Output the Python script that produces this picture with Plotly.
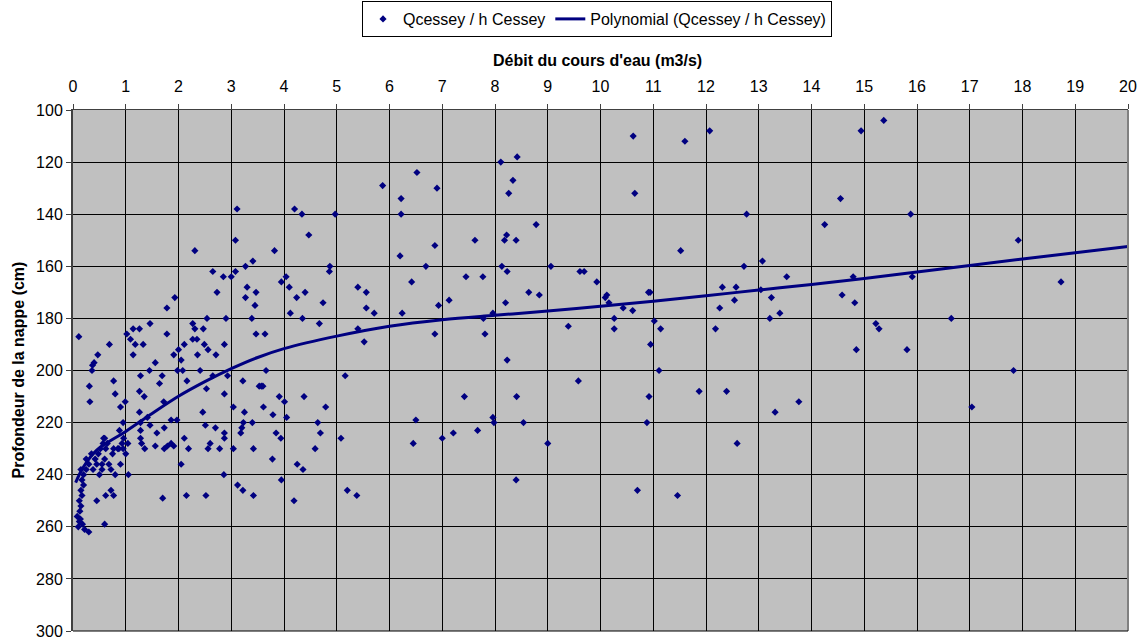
import plotly.graph_objects as go

# Débit (m3/s) et profondeur de la nappe (cm) relevés à Cessey
q_cessey = [
    3.11, 3.08, 2.31, 2.65, 2.85, 3.00, 3.08, 3.27, 3.41,
    2.73, 3.30, 3.27, 3.47, 3.45, 3.39, 3.47, 3.53,
    0.11, 0.69, 0.47, 0.37, 0.40, 0.36, 0.31, 0.32,
    1.02, 1.14, 1.26, 1.09, 1.18, 1.33, 1.14, 1.46, 1.78, 1.93, 1.78,
    1.28, 1.56, 1.45, 1.69, 1.64, 0.77, 0.80, 0.90, 0.99, 1.26, 1.35, 1.26, 1.41, 1.28,
    0.95, 1.46, 0.88, 0.58, 0.96, 0.57, 0.93, 1.04, 1.28, 1.28, 1.59, 1.72, 1.86, 1.97,
    1.73, 1.91,
    2.00, 1.91, 2.05, 1.98, 2.08, 2.16, 2.11, 2.27, 2.31, 2.27, 2.35, 2.36, 2.47, 2.54,
    2.49, 2.56, 2.71, 2.41, 2.53, 2.65, 2.87, 2.90, 2.93, 2.87, 3.04, 3.22, 3.25, 3.23,
    3.20, 3.18, 3.40, 2.46, 2.51, 2.70, 2.87, 2.87, 3.04, 2.11, 2.19, 2.60, 2.56, 2.78,
    3.42, 0.52, 0.77, 0.87, 1.30, 1.36, 1.56, 1.73, 1.79, 1.86,
    4.20, 4.34, 4.97, 4.47, 3.82, 4.87, 4.86, 4.04, 3.95, 5.87, 6.52, 6.90, 6.22, 6.22,
    6.86, 6.20, 6.69, 6.42,
    4.10, 4.24, 4.40, 4.12, 4.35, 4.74, 4.67, 3.64, 5.40, 5.56, 5.56, 5.71, 5.40, 5.52,
    6.24, 6.93, 6.86, 7.13,
    3.66, 3.57, 3.60, 3.91, 4.01, 4.38, 3.61, 3.79, 4.05, 4.79, 5.16, 4.64, 4.69, 3.85,
    3.94, 4.59, 5.08, 6.50, 6.45, 7.00,
    10.62, 10.65, 8.11, 8.42, 8.34, 8.26, 8.78, 7.62, 8.22, 8.18, 8.40, 8.13, 8.23, 9.06,
    9.61, 9.69, 7.45, 7.77,
    9.93, 8.64, 8.84, 8.20, 10.09, 10.12, 10.16, 10.43, 10.61, 10.26, 10.26, 7.96, 7.78,
    7.81, 9.39, 8.23, 9.58, 7.42, 8.41, 7.96, 7.98, 8.54, 7.67, 7.21, 9.00,
    11.60, 12.07, 14.94, 14.55, 14.25, 12.77, 11.52, 12.72, 13.07, 13.53, 14.79, 12.31,
    12.57, 13.04,
    10.91, 10.94, 11.02, 11.14, 10.95, 11.11, 10.92, 10.88, 10.70, 11.46, 12.26, 12.54,
    12.18, 11.87, 12.39, 12.59, 13.24, 13.21, 13.40, 13.76, 13.31, 14.58, 14.82, 14.85,
    15.22, 15.28,
    15.37, 15.88, 15.91, 17.92, 18.73, 15.81, 16.65, 17.83, 17.04,
    8.40, 3.78, 4.25, 4.36, 3.95, 4.19, 3.12, 3.22, 3.42, 2.52, 2.15, 1.70, 2.86, 2.05,
    5.20, 5.38,
    0.10, 0.12, 0.08, 0.13, 0.15, 0.12, 0.17, 0.15, 0.20, 0.17, 0.20, 0.25, 0.15, 0.30,
    0.25, 0.35, 0.30, 0.22, 0.18, 0.14,
    0.38, 0.45, 0.50, 0.45, 0.55, 0.60, 0.62, 0.48, 0.60, 0.65, 0.75, 0.80, 0.90, 0.95,
    0.55, 0.42, 0.68, 0.72, 0.85, 1.00, 1.05, 0.62, 0.60, 0.72, 0.77,
]
h_cessey = [
    138, 150, 154, 162, 164, 164, 162, 160, 158,
    170, 168, 172, 170, 175, 180, 186, 206,
    187, 190, 194, 198, 197, 200, 206, 212,
    186, 184, 184, 188, 190, 190, 194, 182, 176, 172, 186,
    202, 197, 200, 202, 205, 204, 209, 214, 212, 208, 210, 216, 218, 220,
    220, 221, 223, 226, 226, 228, 228, 228, 223, 226, 224, 212, 219, 219,
    222, 229,
    192, 194, 196, 200, 200, 204, 190, 182, 184, 188, 188, 194, 184, 180,
    190, 192, 194, 200, 207, 202, 190, 180, 202, 209, 214, 204, 216, 220,
    222, 224, 220, 216, 221, 222, 224, 226, 230, 226, 230, 228, 230, 230,
    230, 230, 230, 230, 228, 230, 229, 230, 229, 228,
    138, 140, 140, 148, 154, 160, 162, 164, 166, 129, 124, 130, 134, 140,
    152, 156, 160, 166,
    168, 172, 170, 178, 180, 174, 182, 186, 168, 170, 176, 178, 184, 189,
    178, 175, 186, 173,
    200, 206, 206, 210, 212, 210, 214, 217, 218, 214, 202, 220, 224, 224,
    226, 230, 226, 219, 228, 226,
    110, 132, 120, 118, 127, 132, 144, 150, 148, 150, 150, 160, 162, 160,
    162, 162, 164, 164,
    166, 170, 171, 174, 172, 171, 174, 176, 177, 180, 184, 178, 180,
    186, 183, 196, 204, 210, 210, 218, 220, 220, 223, 224, 228,
    112, 108, 108, 134, 144, 140, 154, 160, 158, 164, 164, 168,
    168, 169,
    170, 170, 181, 184, 190, 200, 210, 220, 246, 248, 176, 173,
    184, 208, 208, 228, 172, 180, 178, 212, 216, 171, 174, 192,
    182, 184,
    104, 140, 164, 150, 166, 192, 180, 200, 214,
    242, 234, 236, 238, 242, 250, 244, 246, 248, 248, 248, 249, 240, 236,
    246, 248,
    260, 258, 256, 254, 252, 250, 248, 246, 244, 242, 240, 238, 238, 236,
    234, 232, 262, 261, 259, 257,
    238, 236, 240, 250, 238, 234, 230, 232, 226, 228, 232, 240, 236, 230,
    236, 234, 236, 238, 230, 232, 240, 248, 259, 246, 248,
]

# Courbe de tendance polynomiale relevée le long de l'axe des débits
trend_q = [0.05, 0.2, 0.45, 1.0, 1.5, 2.0, 2.5, 3.0, 3.5, 4.0, 5.0, 6.0, 7.0, 8.0,
           9.0, 10.0, 11.0, 12.0, 13.0, 14.0, 15.0, 16.0, 17.0, 18.0, 19.0, 20.0]
trend_h = [243, 237, 230.6, 223.4, 216.5, 209.9, 204.3, 199.3, 195, 191.6, 186.8, 183,
           180.5, 178.8, 177.2, 175.3, 173.4, 171.3, 169.1, 167.0, 164.7, 162.2, 159.7,
           157.2, 154.8, 152.4]

x_ticks = list(range(0, 21))
y_ticks = list(range(100, 301, 20))

NAVY = "#000080"
FONT = "Liberation Sans, Arial, sans-serif"
FS = 16

fig = go.Figure()
fig.add_trace(go.Scatter(
    x=q_cessey, y=h_cessey, mode="markers",
    name="Qcessey / h Cessey",
    marker=dict(symbol="diamond", size=5.5, color=NAVY, line=dict(width=0)),
))
fig.add_trace(go.Scatter(
    x=trend_q, y=trend_h, mode="lines",
    name="Polynomial (Qcessey / h Cessey)",
    line=dict(color=NAVY, width=3, shape="spline", smoothing=1.0),
))

L, R, T, B = 73, 18, 110, 11
PH = 642 - T - B  # hauteur de la zone de tracé en pixels
fig.update_layout(
    width=1146, height=642,
    margin=dict(l=L, r=R, t=T, b=B, autoexpand=False),
    paper_bgcolor="white",
    plot_bgcolor="#C0C0C0",
    font=dict(family=FONT, size=FS, color="black"),
    showlegend=True,
    legend=dict(
        orientation="h", x=0.4967, xanchor="center", y=1 + (T - 1) / PH,
        yanchor="top", bordercolor="black", borderwidth=1, bgcolor="white",
        font=dict(family=FONT, size=FS), itemwidth=30, tracegroupgap=0,
    ),
    xaxis=dict(
        side="top", range=[0, 20], tickvals=x_ticks, ticktext=[str(v) for v in x_ticks],
        showgrid=True, gridcolor="black", gridwidth=1, zeroline=False,
        showline=True, linecolor="#404040", linewidth=1,
        ticks="outside", ticklen=5, tickcolor="#404040", ticklabelstandoff=6,
        tickfont=dict(family=FONT, size=FS),
    ),
    yaxis=dict(
        range=[300, 100], tickvals=y_ticks, ticktext=[str(v) for v in y_ticks],
        showgrid=True, gridcolor="black", gridwidth=1, zeroline=False,
        showline=True, linecolor="#404040", linewidth=2,
        ticks="outside", ticklen=5, tickcolor="#404040",
        tickfont=dict(family=FONT, size=FS),
    ),
    shapes=[
        dict(type="line", xref="paper", yref="paper", x0=1, x1=1, y0=0, y1=1,
             line=dict(color="#808080", width=2)),
        dict(type="line", xref="paper", yref="paper", x0=0, x1=1, y0=0, y1=0,
             line=dict(color="black", width=1)),
    ],
    annotations=[
        dict(text="<b>Débit du cours d'eau (m3/s)</b>", xref="paper", yref="paper",
             x=0.4967, y=1 + (T - 60) / PH, xanchor="center", yanchor="middle",
             showarrow=False, font=dict(family=FONT, size=FS)),
        dict(text="<b>Profondeur de la nappe (cm)</b>", xref="paper", yref="paper",
             x=(18 - L) / 1055, y=0.5, xanchor="center", yanchor="middle",
             textangle=-90, showarrow=False, font=dict(family=FONT, size=FS)),
    ],
)

fig.write_html("out.html")
